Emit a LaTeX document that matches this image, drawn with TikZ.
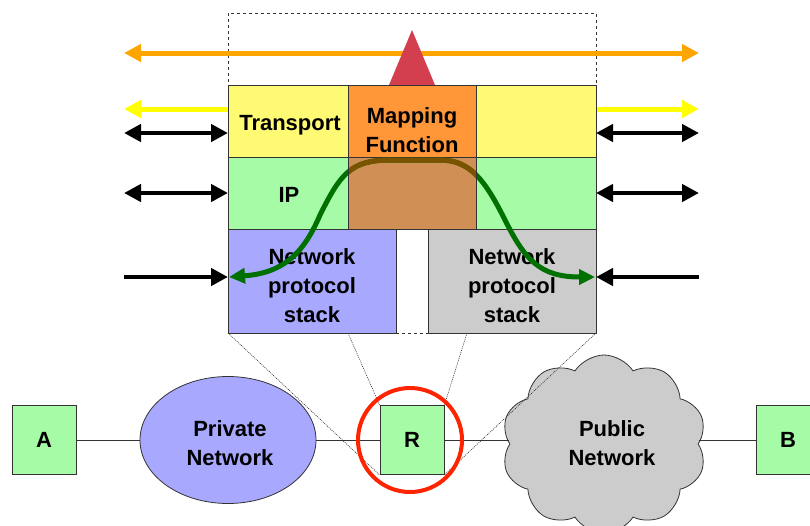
\documentclass[tikz,border=0pt]{standalone}
\usepackage{fontspec}
\setmainfont{Liberation Sans}
\usetikzlibrary{arrows.meta,shapes.geometric,shapes.symbols}
\definecolor{ylw}{HTML}{FFFA73}
\definecolor{grn}{HTML}{A6FBA6}
\definecolor{blu}{HTML}{A8A8FF}
\definecolor{gry}{HTML}{CCCCCC}
\definecolor{orng}{HTML}{FF9638}
\definecolor{brwn}{HTML}{D08F55}
\definecolor{dbrwn}{HTML}{7A5200}
\definecolor{tri}{HTML}{D33F4F}
\definecolor{arrorange}{HTML}{FFA500}
\definecolor{arryellow}{HTML}{FFFF00}
\definecolor{cgreen}{HTML}{007000}
\definecolor{rcirc}{HTML}{FF2400}
\definecolor{edge}{HTML}{333333}
\begin{document}
\begin{tikzpicture}[x=1pt,y=-1pt,
  lbl/.style={font=\bfseries\fontsize{22}{29}\selectfont, align=center, inner sep=0pt},
  layer/.style={draw=edge, line width=0.8pt, inner sep=0pt, outer sep=0pt, anchor=north west},
  fatarrow/.style={line width=5pt, {Triangle[length=17pt,width=17pt]}-{Triangle[length=17pt,width=17pt]}},
  blk/.style={line width=4.5pt, black},
  host/.style={draw=edge, line width=0.8pt, fill=grn, minimum width=64pt, minimum height=69pt, inner sep=0pt, lbl},
  link/.style={draw=edge, line width=0.8pt},
  zoomline/.style={draw=black!80, line width=0.6pt, dash pattern=on 1pt off 1pt},
]
\useasboundingbox (0,0) rectangle (810,525);

% dashed zoom frame
\node[draw=black!80, dashed, line width=0.6pt, minimum width=368pt, minimum height=320pt, inner sep=0pt, outer sep=0pt, anchor=north west] (zoom) at (228,13) {};

% yellow arrow (behind boxes)
\coordinate (yl) at (124,109);
\coordinate (yr) at (699,109);
\draw[fatarrow, arryellow] (yl) -- (yr);
% orange arrow
\coordinate (ol) at (124,53);
\coordinate (or) at (699,53);
\draw[fatarrow, arrorange] (ol) -- (or);
% red triangle
\coordinate (ta) at (412,30);
\coordinate (tb) at (389,85);
\coordinate (tc) at (435,85);
\fill[tri] (ta) -- (tb) -- (tc) -- cycle;

% layer boxes
\node[layer, fill=ylw, minimum width=120pt, minimum height=72pt] (trans) at (228,85) {};
\node[layer, fill=orng, minimum width=128pt, minimum height=72pt] (map) at (348,85) {};
\node[layer, fill=ylw, minimum width=120pt, minimum height=72pt] (yr2) at (476,85) {};
\node[layer, fill=grn, minimum width=120pt, minimum height=72pt] (ipl) at (228,157) {};
\node[layer, fill=brwn, minimum width=128pt, minimum height=72pt] (ipm) at (348,157) {};
\node[layer, fill=grn, minimum width=120pt, minimum height=72pt] (ipr) at (476,157) {};
\node[layer, fill=blu, minimum width=168pt, minimum height=104pt] (nl) at (228,229) {};
\node[layer, fill=gry, minimum width=168pt, minimum height=104pt] (nr) at (428,229) {};
\node[lbl] (translbl) at (290,125) {Transport};
\node[lbl] (maplbl) at (412,130) {Mapping\\Function};
\node[lbl] (iplbl) at (289,195) {IP};
\node[lbl] (nllbl) at (312,286) {Network\\protocol\\stack};
\node[lbl] (nrlbl) at (512,286) {Network\\protocol\\stack};

% green curve
\def\curvepath{(229,277) .. controls (282,273) and (303,255) .. (320,215) .. controls (340,175) and (350,160) .. (390,160) -- (440,160) .. controls (470,160) and (485,180) .. (505,220) .. controls (525,260) and (540,277) .. (595,277)}
\draw[cgreen, line width=5pt, {Triangle[length=16pt,width=15pt]}-{Triangle[length=16pt,width=15pt]}] \curvepath;
\begin{scope}
  \clip (ipm.north west) rectangle (ipm.south east);
  \draw[dbrwn, line width=5pt] \curvepath;
\end{scope}
\draw[draw=edge, line width=0.8pt] (ipm.north west) -- (ipm.south west) (ipm.north east) -- (ipm.south east);

% black arrows
\coordinate (b1l) at (124,133);
\coordinate (b1r) at (699,133);
\coordinate (b2l) at (124,193);
\coordinate (b2r) at (699,193);
\coordinate (b3l) at (124,277);
\coordinate (b3r) at (699,277);
\draw[blk, {Triangle[length=17pt,width=17pt]}-{Triangle[length=17pt,width=17pt]}] (b1l) -- (b1l -| trans.west);
\draw[blk, {Triangle[length=17pt,width=17pt]}-{Triangle[length=17pt,width=17pt]}] (b1r -| yr2.east) -- (b1r);
\draw[blk, {Triangle[length=17pt,width=17pt]}-{Triangle[length=17pt,width=17pt]}] (b2l) -- (b2l -| ipl.west);
\draw[blk, {Triangle[length=17pt,width=17pt]}-{Triangle[length=17pt,width=17pt]}] (b2r -| ipr.east) -- (b2r);
\draw[blk, -{Triangle[length=17pt,width=17pt]}] (b3l) -- (b3l -| nl.west);
\draw[blk, -{Triangle[length=17pt,width=17pt]}] (b3r) -- (b3r -| nr.east);

% bottom network
\node[host] (A) at (44,440) {\raisebox{-1.5pt}{A}};
\node[ellipse, draw=edge, line width=0.8pt, fill=blu, minimum width=176pt, minimum height=127pt, inner sep=0pt] (priv) at (228,440) {};
\node[lbl] (privlbl) at (230,443) {Private\\Network};
\node[host] (R) at (412,440) {\raisebox{-1.5pt}{R}};
\node[cloud, cloud puffs=10, cloud puff arc=115, aspect=1.15, draw=edge, line width=0.8pt, fill=gry, minimum width=205pt, minimum height=178pt, inner sep=0pt] (cloud) at (604,444) {};
\node[lbl] (publbl) at (612,443) {Public\\Network};
\node[host] (B) at (788,440) {\raisebox{-1.5pt}{B}};

\draw[link] (A) -- (priv);
\draw[link] (priv) -- (R);
\draw[link] (R.east) -- (R.east -| cloud.west);
\draw[link] (B.west -| cloud.east) -- (B.west);

% zoom lines
\coordinate (z2) at (348,333);
\coordinate (z3) at (467,333);
\draw[zoomline] (zoom.south west) -- (R.south west);
\draw[zoomline] (z2) -- (R.north west);
\draw[zoomline] (z3) -- (R.north east);
\draw[zoomline] (zoom.south east) -- (R.south east);

% red circle
\node[circle, draw=rcirc, line width=4pt, minimum size=104pt, inner sep=0pt] (rc) at (410,440) {};
\end{tikzpicture}
\end{document}
